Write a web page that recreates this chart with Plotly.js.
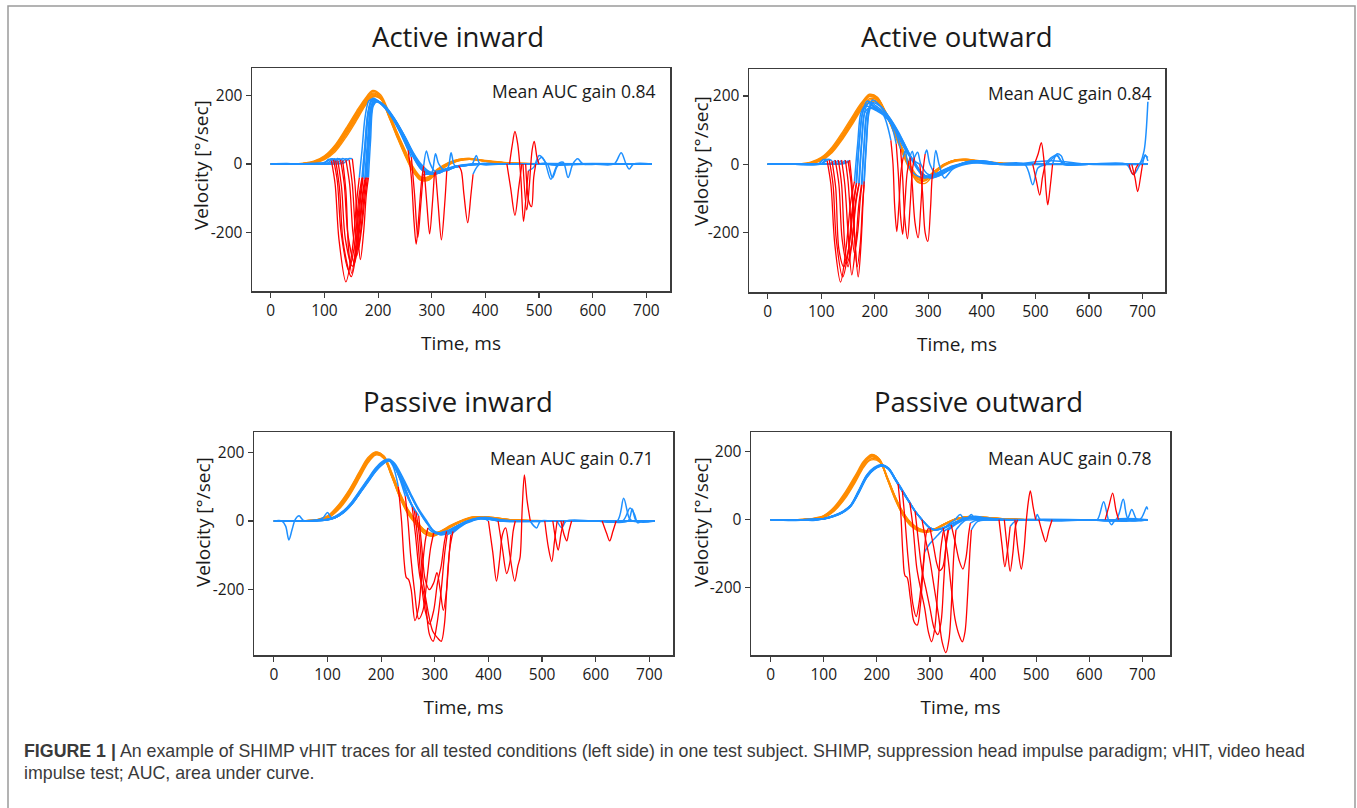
<!DOCTYPE html>
<html><head><meta charset="utf-8">
<script src="https://cdn.plot.ly/plotly-3.0.1.min.js"></script>
<style>html,body{margin:0;padding:0;background:#fff;}#chart{width:1357px;height:808px;}</style>
</head><body><div id="chart"></div>
<script>
// ---------- shared ticks ----------
const xTickVals = [0,100,200,300,400,500,600,700];
const xTickText = ['0','100','200','300','400','500','600','700'];
const yTickVals = [-200,0,200];
const yTickText = ['-200','0','200'];
const panelTitles = ['Active inward','Active outward','Passive inward','Passive outward'];
const gainLabels = ['Mean AUC gain 0.84','Mean AUC gain 0.84','Mean AUC gain 0.71','Mean AUC gain 0.78'];
const xTitle = 'Time, ms';
const yTitle = 'Velocity [°/sec]';
const captionLine1 = '<b>FIGURE 1 |</b> An example of SHIMP vHIT traces for all tested conditions (left side) in one test subject. SHIMP, suppression head impulse paradigm; vHIT, video head';
const captionLine2 = 'impulse test; AUC, area under curve.';

// ---------- Panel 1: Active inward ----------
const aiHeadT = [0,40,60,80,100,120,140,160,175,190,205,220,235,250,265,280,295,310,330,350,370,400,440,500,600,710];
const aiHeadV = [
[0,0,1,5,18,45,90,140,180,205,192,142,85,30,-18,-44,-38,-18,2,12,15,8,2,0,0,0],
[0,0,1,6,20,50,97,148,186,212,198,144,86,30,-20,-47,-42,-20,0,11,14,8,2,0,0,0],
[0,0,0,4,15,40,84,133,172,198,190,142,88,35,-13,-40,-36,-16,3,13,16,9,3,0,0,0],
[0,0,2,8,24,56,104,155,190,215,202,152,93,37,-14,-45,-44,-24,-2,10,15,9,3,0,0,0],
[0,0,1,5,17,44,88,138,176,200,190,138,80,25,-22,-48,-40,-18,2,13,16,8,2,0,0,0],
[0,0,1,7,22,53,100,150,184,208,194,140,82,28,-20,-48,-47,-26,-4,9,14,9,3,0,0,0],
[0,0,0,3,13,36,78,128,168,196,192,148,94,42,-8,-38,-40,-22,-2,10,14,10,4,1,0,0],
[0,0,1,5,19,48,93,143,180,204,195,144,87,32,-16,-45,-43,-21,0,12,15,8,2,0,0,0]
];
const aiEye = [
[[0,0],[30,1],[60,-1],[90,1],[100,3],[108,14],[113,10],null,[165,-40],[170,40],[176,140],[183,185],[192,190],[205,178],[220,152],[235,112],[250,68],[262,30],[275,-5],[288,-25],[300,-30],[320,-20],[345,-8],[370,-3],[400,0],[450,0],[475,0],null,[494,0],[505,20],[515,0],[600,0],[660,0],[710,0]],
[[0,0],[40,0],[70,1],[95,2],[105,8],[112,15],[117,12],null,[170,-40],[175,50],[181,150],[188,188],[200,182],[220,150],[240,100],[255,55],[268,15],[280,-15],[292,-28],[305,-28],[325,-15],[350,-5],[390,0],[450,0],[520,1],[600,0],[710,0]],
[[0,0],[50,0],[90,1],[106,3],[115,15],[121,10],null,[172,-40],[177,60],[183,160],[190,192],[205,178],[222,145],[240,95],[256,40],null,[285,-5],[290,38],[296,5],[305,-20],[320,-18],[345,-6],[380,0],[450,0],[520,0],[600,1],[710,0]],
[[0,0],[50,0],[90,-1],[110,3],[119,15],[125,10],null,[175,-45],[180,60],[186,165],[193,188],[208,175],[225,140],[242,90],[262,20],null,[284,-30],[292,-30],[300,-25],[307,30],[313,0],[325,-20],[345,-8],[380,0],[440,0],[520,0],[600,0],[710,0]],
[[0,0],[50,0],[90,1],[115,3],[124,16],[130,12],null,[177,-40],[182,70],[188,170],[195,186],[210,172],[228,135],[246,85],[262,35],[276,0],[286,-20],null,[305,-25],[318,-20],[330,-12],[336,33],[343,-5],[360,-5],[380,0],[430,0],[500,0],[600,0],[710,0]],
[[0,0],[50,0],[90,0],[118,3],[128,15],[134,10],null,[171,-40],[176,55],[182,155],[189,185],[205,176],[222,148],[240,102],[255,60],[268,20],[282,-15],[296,-30],[307,-22],null,[328,-20],[345,-8],[375,0],[383,25],[390,0],[430,0],[500,0],[600,0],[710,0]],
[[0,0],[50,0],[90,1],[124,3],[134,16],[140,12],null,[178,-40],[183,70],[189,170],[196,185],[212,172],[230,134],[248,85],[263,38],[277,0],[290,-22],[305,-30],[325,-18],[350,-5],null,[377,-30],[390,0],[420,0],[440,0],null,[468,0],[500,0],[560,0],[600,0],[710,0]],
[[0,0],[50,0],[90,0],[130,3],[140,15],[146,12],null,[180,-40],[184,70],[190,170],[197,183],[213,168],[232,128],[250,78],[265,32],[280,-5],[295,-25],[310,-28],[330,-15],[360,-5],[400,0],[445,0],null,[480,-20],[490,-10],[500,25],[510,10],[522,-45],[535,0],[545,5],[554,-40],[563,0],[572,15],[582,0],[620,0],[710,0]],
[[0,0],[50,0],[90,1],[136,3],[146,16],[152,15],null,[182,-40],[186,70],[191,170],[198,182],[214,166],[232,128],[250,80],[265,35],[280,0],[295,-22],[310,-28],[330,-15],[360,-5],[400,0],[470,0],null,[500,0],[515,0],[525,-40],[535,-5],[550,0],[600,0],[640,0],[653,33],[662,0],[668,-15],[676,0],[710,0]]
];
const aiSac = [
[[113,10],[120,-60],[127,-220],[140,-345],[152,-250],[160,-110],[165,-40]],
[[475,0],[481,-110],[486,-125],[490,-40],[494,0]],
[[117,12],[124,-50],[131,-200],[145,-310],[156,-240],[164,-100],[170,-40]],
[[121,10],[128,-70],[135,-230],[150,-330],[160,-250],[167,-110],[172,-40]],
[[256,40],[262,-40],[267,-170],[271,-235],[276,-150],[281,-50],[285,-5]],
[[125,10],[132,-70],[139,-220],[152,-300],[162,-220],[170,-100],[175,-45]],
[[262,20],[268,-90],[274,-215],[279,-130],[284,-30]],
[[130,12],[137,-60],[144,-210],[156,-290],[165,-200],[172,-90],[177,-40]],
[[286,-20],[291,-120],[296,-205],[301,-120],[305,-25]],
[[134,10],[140,-80],[145,-250],[151,-320],[159,-230],[166,-100],[171,-40]],
[[307,-22],[312,-120],[318,-222],[324,-120],[328,-20]],
[[140,12],[147,-60],[153,-200],[160,-270],[168,-190],[174,-90],[178,-40]],
[[350,-5],[355,-20],[360,-90],[367,-172],[373,-90],[377,-30]],
[[440,0],[447,-70],[455,-150],[462,-70],[468,0]],
[[146,12],[152,-60],[158,-200],[163,-250],[170,-180],[176,-90],[180,-40]],
[[445,0],[450,55],[455,95],[460,60],[466,-40],[471,-168],[476,-90],[480,-20]],
[[152,15],[157,-60],[162,-200],[167,-280],[173,-200],[178,-90],[182,-40]],
[[470,0],[477,-135],[482,-60],[487,40],[491,66],[496,20],[500,0]]
];

// ---------- Panel 2: Active outward ----------
const aoHeadT = [0,40,60,80,100,120,140,160,175,190,205,220,235,250,265,280,295,310,330,350,370,400,440,500,600,710];
const aoHeadV = [
[0,0,0,3,14,40,82,132,170,198,190,150,100,45,-8,-45,-45,-25,0,12,13,7,2,0,0,0],
[0,0,1,5,18,46,90,140,176,203,194,152,98,42,-12,-50,-48,-26,-2,10,14,8,2,0,0,0],
[0,0,0,2,11,34,74,122,160,188,184,148,102,50,-2,-38,-42,-24,0,12,14,8,3,0,0,0],
[0,0,1,4,16,43,86,136,173,200,193,155,104,48,-5,-42,-46,-27,-1,11,13,7,2,0,0,0],
[0,0,0,3,12,37,78,127,164,192,188,152,105,52,0,-35,-40,-22,1,13,15,9,3,0,0,0],
[0,0,1,6,20,50,95,145,180,205,196,150,95,38,-15,-52,-55,-30,-4,9,12,8,2,0,0,0],
[0,0,0,3,13,38,80,128,165,182,180,146,100,48,-4,-38,-40,-22,0,12,14,8,2,0,0,0]
];
const aoEye = [
[[0,0],[50,0],[95,2],[104,14],[111,10],null,[162,-50],[168,60],[174,150],[182,170],[195,165],[210,155],[225,130],[240,95],[255,55],[270,10],[285,-25],[300,-35],[320,-25],[345,-5],[380,5],[420,0],[480,0],[495,-60],[505,-10],[520,0],[540,25],[552,0],[600,0],[670,0],[683,-30],[695,0],[703,40],[710,183]],
[[0,0],[50,0],[100,2],[109,15],[115,12],null,[165,-60],[170,50],[177,150],[186,185],[198,170],[212,150],[228,125],[240,60],null,[264,10],[270,38],[276,0],[290,-35],[310,-30],[330,-15],[360,0],[390,8],[430,0],[500,0],[600,0],[710,0]],
[[0,0],[50,0],[100,1],[114,15],[120,10],null,[166,-55],[171,60],[178,155],[188,178],[200,165],[215,148],[230,70],null,[253,20],[257,40],[262,0],[275,-30],[295,-40],[320,-25],[350,-5],[390,5],[430,0],[500,0],[600,0],[710,0]],
[[0,0],[50,0],[100,0],[118,3],[126,12],null,[170,-60],[175,60],[181,150],[190,165],[205,155],[220,140],[235,110],[248,45],null,[274,20],[280,35],[286,0],[300,-30],[320,-30],[345,-10],[370,5],[400,10],[440,0],[495,0],null,[518,0],[530,20],[540,28],[550,5],[560,0],[600,0],[710,0]],
[[0,0],[50,0],[100,1],[124,3],[132,12],null,[171,-55],[176,70],[182,160],[190,182],[203,170],[218,150],[235,110],[252,55],[266,20],null,[294,30],[297,42],[303,0],[315,-30],[335,-20],[360,0],[390,10],[430,0],[500,0],[600,0],[710,0]],
[[0,0],[50,0],[100,1],[130,3],[138,12],null,[175,-60],[180,60],[185,150],[192,165],[205,160],[220,140],[240,100],[255,55],[270,15],[284,0],null,[310,-10],[314,40],[320,0],[330,-40],[345,-15],[370,0],[400,5],[440,0],[498,0],null,[532,0],[540,30],[548,25],[556,0],[600,0],[680,0],null,[700,0],[705,25],[710,20]],
[[0,0],[50,0],[100,0],[137,3],[145,12],null,[176,-60],[180,50],[186,150],[194,172],[208,160],[225,135],[245,85],[262,35],[275,5],[290,-30],[305,-40],[325,-30],[345,-10],[370,5],[400,10],[440,0],[500,0],[600,0],[675,0],null,[692,0],[700,10],[705,28],[710,10]],
[[0,0],[50,0],[100,1],[142,3],[150,10],null,[180,-60],[184,50],[189,150],[196,180],[210,170],[226,140],[244,95],[260,45],[275,0],[290,-30],[305,-40],[325,-30],[345,-10],[375,8],[410,5],[450,0],[530,10],[600,0],[710,0]],
[[0,0],[50,0],[100,0],[145,3],[153,12],null,[180,-50],[184,60],[189,160],[196,188],[212,168],[230,130],[250,75],[268,20],[285,-20],[300,-38],[320,-30],[345,-10],[375,8],[410,5],[450,0],[600,0],[710,0]]
];
const aoSac = [
[[111,10],[118,-60],[125,-230],[136,-345],[146,-250],[155,-110],[162,-50]],
[[115,12],[122,-60],[128,-220],[140,-330],[150,-260],[158,-130],[165,-60]],
[[240,60],[244,-30],[248,-150],[252,-205],[256,-120],[260,-30],[264,10]],
[[120,10],[127,-70],[133,-250],[142,-300],[152,-240],[160,-120],[166,-55]],
[[230,70],[234,0],[237,-120],[241,-197],[245,-120],[249,-20],[253,20]],
[[126,12],[133,-60],[139,-220],[148,-290],[157,-230],[164,-110],[170,-60]],
[[248,45],[252,-40],[256,-160],[261,-218],[266,-120],[270,-20],[274,20]],
[[495,0],[502,-50],[508,-90],[513,-40],[518,0]],
[[132,12],[138,-60],[144,-240],[150,-300],[158,-220],[165,-110],[171,-55]],
[[266,20],[270,-60],[275,-170],[281,-215],[286,-120],[290,-20],[294,30]],
[[138,12],[144,-60],[150,-200],[157,-324],[164,-240],[170,-120],[175,-60]],
[[284,0],[289,-80],[294,-200],[299,-226],[304,-130],[307,-40],[310,-10]],
[[498,0],[505,30],[511,63],[516,10],[520,-80],[523,-119],[528,-60],[532,0]],
[[680,0],[686,-40],[691,-80],[697,-30],[700,0]],
[[145,12],[150,-50],[156,-180],[162,-260],[168,-200],[173,-100],[176,-60]],
[[675,0],[680,-25],[684,-30],[688,-10],[692,0]],
[[150,10],[156,-60],[162,-200],[167,-300],[173,-230],[177,-120],[180,-60]],
[[153,12],[158,-70],[163,-230],[169,-330],[174,-240],[178,-110],[180,-50]]
];

// ---------- Panel 3: Passive inward ----------
const piHeadT = [0,40,60,80,100,120,140,160,175,190,205,220,235,250,265,280,295,310,330,350,370,400,440,500,600,710];
const piHeadV = [
[0,0,0,2,10,38,80,135,175,198,185,130,70,25,-5,-30,-40,-32,-15,0,10,10,3,0,0,0],
[0,0,1,3,13,44,88,142,180,200,188,134,74,28,-4,-30,-42,-34,-16,0,9,10,3,0,0,0],
[0,0,0,1,8,32,72,126,168,192,182,128,68,22,-8,-35,-45,-36,-18,-2,8,11,4,0,0,0],
[0,0,1,3,12,40,84,138,178,196,184,132,76,30,0,-26,-38,-30,-12,2,12,10,3,0,0,0],
[0,0,0,2,9,35,76,130,172,194,186,138,80,32,-2,-28,-40,-33,-14,0,11,12,4,1,0,0],
[0,0,1,4,15,46,90,145,184,201,186,130,68,20,-10,-36,-44,-35,-16,-1,9,10,3,0,0,0],
[0,0,0,2,11,38,82,136,176,198,190,140,82,34,2,-25,-36,-30,-14,1,10,11,4,0,0,0]
];
const piEye = [
[[0,0],[15,0],[22,-15],[28,-55],[34,-25],[40,5],[47,15],[55,2],[80,0],[100,4],[115,12],[130,28],[145,52],[160,85],[175,118],[190,150],[203,172],[213,178],[222,160],[232,100],null,[287,-20],[300,-35],[320,-30],[340,-15],[360,0],[380,8],[400,5],[430,0],[500,0],[600,0],[710,0]],
[[0,0],[50,0],[80,2],[92,10],[100,25],[108,8],[120,14],[135,32],[150,58],[165,92],[180,125],[195,155],[207,170],[217,176],[228,150],[245,72],null,[298,-35],[310,-38],[330,-25],[350,-8],[375,5],[400,5],[440,0],[500,0],[600,0],[710,0]],
[[0,0],[50,0],[100,4],[115,10],[130,25],[145,48],[160,80],[175,112],[190,145],[205,168],[215,176],[225,165],[240,115],[258,40],null,[323,-40],[335,-30],[350,-10],[370,3],[390,8],[400,0],null,[478,0],[485,-15],[490,-20],[497,0],[520,0],[600,0],[710,0]],
[[0,0],[50,0],[100,5],[115,13],[130,29],[145,54],[160,86],[175,120],[190,152],[205,172],[214,178],[224,160],[238,115],[252,60],[265,25],null,[330,-40],[345,-20],[365,0],[385,8],[405,5],[418,0],null,[450,0],[500,0],[505,0],null,[528,0],[537,-20],[545,0],[600,0],[710,0]],
[[0,0],[50,0],[100,3],[115,11],[130,26],[145,50],[160,83],[175,116],[190,148],[203,170],[213,177],[223,162],[236,120],[252,62],[270,15],null,[334,-30],[350,-12],[370,0],[390,8],[420,0],[520,0],null,[540,0],[600,0],[710,0]],
[[0,0],[50,0],[100,4],[115,12],[130,27],[145,51],[160,84],[175,117],[190,149],[204,171],[214,178],[224,163],[238,118],[252,66],[262,30],null,[322,-30],[340,-20],[360,-3],[385,10],[420,0],[535,0],null,[555,0],[600,0],[612,0],null,[638,0],[660,0],[710,0]],
[[0,0],[50,0],[100,4],[115,10],[130,26],[145,50],[160,82],[175,116],[190,148],[203,170],[215,180],[225,168],[240,128],[255,80],[270,35],[285,0],[298,-30],[310,-40],[325,-35],[345,-15],[365,0],[385,8],[410,5],[440,0],[500,0],[600,0],[640,0],[652,66],[662,10],[668,0],[710,0]],
[[0,0],[50,0],[100,5],[115,14],[130,30],[145,55],[160,88],[175,122],[190,155],[203,174],[212,180],[222,170],[236,135],[250,90],[265,45],[280,5],[295,-25],[308,-35],[325,-30],[345,-12],[365,0],[390,10],[420,3],[450,0],[550,0],[600,0],[650,0],[664,38],[672,20],[678,-5],[686,0],[710,0]],
[[0,0],[50,0],[100,3],[115,10],[130,24],[145,48],[160,80],[175,114],[190,146],[203,168],[215,176],[226,160],[240,120],[255,75],[270,30],[285,-5],[300,-32],[312,-40],[330,-30],[350,-10],[370,2],[395,10],[425,3],[460,0],[600,0],[660,0],[668,35],[676,0],[710,0]]
];
const piSac = [
[[232,100],[238,0],[243,-120],[247,-165],[251,-170],[256,-200],[263,-290],[270,-250],[276,-150],[282,-60],[287,-20]],
[[245,72],[250,0],[255,-100],[262,-200],[270,-285],[278,-260],[286,-160],[292,-80],[298,-35]],
[[258,40],[264,-40],[272,-160],[282,-230],[290,-330],[297,-350],[304,-300],[312,-200],[318,-100],[323,-40]],
[[400,0],[408,-90],[415,-175],[421,-110],[426,-40],[432,-20],[440,-100],[449,-175],[455,-130],[459,-105],[463,40],[467,134],[472,60],[478,0]],
[[265,25],[271,-40],[278,-170],[287,-260],[296,-320],[305,-340],[312,-350],[318,-300],[324,-150],[330,-40]],
[[418,0],[426,-80],[434,-153],[440,-120],[446,-30],[450,0]],
[[505,0],[512,-80],[518,-118],[523,-60],[528,0]],
[[270,15],[276,-80],[282,-170],[290,-200],[298,-180],[304,-150],[310,-200],[316,-260],[322,-200],[328,-80],[334,-30]],
[[520,0],[526,-60],[530,-85],[535,-40],[540,0]],
[[262,30],[268,-50],[275,-180],[282,-260],[290,-300],[298,-260],[305,-180],[312,-130],[318,-60],[322,-30]],
[[535,0],[541,-40],[546,-58],[550,-30],[555,0]],
[[612,0],[620,-35],[626,-58],[632,-30],[638,0]]
];

// ---------- Panel 4: Passive outward ----------
const poHeadT = [0,40,60,80,100,120,140,160,175,190,205,220,235,250,265,280,295,310,330,350,370,400,440,500,600,710];
const poHeadV = [
[0,0,0,2,8,30,68,120,162,188,176,120,62,15,-15,-30,-35,-28,-12,2,8,6,2,0,0,0],
[0,0,1,3,11,35,75,128,168,190,178,122,64,17,-14,-30,-34,-27,-10,3,9,7,2,0,0,0],
[0,0,0,1,6,26,62,112,154,180,172,120,64,18,-12,-28,-34,-28,-12,1,8,7,2,0,0,0],
[0,0,1,3,10,33,72,124,164,185,174,118,58,12,-18,-32,-36,-28,-11,2,9,6,2,0,0,0],
[0,0,0,2,7,28,66,116,158,176,170,122,66,20,-10,-26,-32,-26,-10,3,9,7,3,0,0,0],
[0,0,1,4,12,38,80,132,172,192,178,118,58,10,-20,-34,-37,-29,-12,2,8,6,2,0,0,0],
[0,0,0,2,9,31,70,122,164,186,176,124,66,20,-12,-28,-33,-26,-10,3,9,7,2,0,0,0]
];
const poEye = [
[[0,0],[50,0],[80,0],[100,3],[120,12],[135,22],[150,40],[165,80],[181,128],[195,150],[210,160],[222,150],[233,125],[240,105],null,[297,-25],[310,-30],[330,-20],[350,-5],[370,3],[378,15],[386,0],[400,0],[430,0],null,[451,-20],[460,-5],[480,0],[600,0],[710,0]],
[[0,0],[40,-2],[80,0],[100,2],[120,10],[135,20],[150,38],[165,76],[181,124],[195,148],[210,158],[223,150],[236,116],[248,85],null,[290,-95],[300,-70],[315,-45],[330,-20],[347,0],[357,15],[365,0],[380,0],[440,0],null,[465,0],[500,0],[600,0],[710,0]],
[[0,0],[50,0],[80,-2],[100,3],[120,13],[135,24],[150,42],[165,84],[181,132],[195,154],[210,162],[222,152],[235,120],[248,88],[262,50],null,[325,-35],[340,-20],[360,0],[385,10],[420,0],[460,0],null,[499,0],[502,15],[508,0],[600,0],[710,0]],
[[0,0],[50,0],[100,3],[120,11],[135,21],[150,39],[165,78],[181,126],[195,149],[210,159],[222,149],[235,117],[248,84],[260,54],[272,25],null,[334,-30],[350,-10],[370,5],[400,3],[440,0],[505,0],null,[530,0],[600,0],[710,0]],
[[0,0],[50,0],[100,3],[120,12],[135,23],[150,41],[165,82],[181,130],[195,152],[210,161],[222,151],[235,119],[248,86],[260,56],[272,26],[285,0],null,[349,-30],[360,-10],[375,5],[400,5],[450,0],[600,0],[630,0],null,[655,0],[680,0],[710,0]],
[[0,0],[50,0],[100,2],[120,11],[135,21],[150,38],[165,77],[181,125],[195,148],[210,158],[222,148],[235,116],[248,83],[260,53],[272,24],[285,0],[300,-25],null,[335,-30],[350,-12],[370,2],[400,5],[450,0],[600,0],[615,0],[627,53],[636,0],[642,-15],[650,0],[710,0]],
[[0,0],[50,0],[100,3],[120,12],[135,22],[150,40],[165,80],[181,128],[195,150],[210,160],[222,150],[235,118],[248,85],[260,55],[272,25],[285,0],[298,-22],[310,-30],[325,-25],null,[378,-30],[390,-5],[410,0],[500,0],[600,0],[650,0],[664,60],[674,0],[710,0]],
[[0,0],[50,0],[100,3],[120,12],[135,22],[150,40],[165,80],[181,128],[195,150],[210,160],[222,150],[235,118],[248,85],[260,55],[272,25],[285,0],[298,-22],[310,-30],[325,-25],[340,-15],null,[376,-10],[390,0],[420,0],[500,0],[600,0],[670,0],[680,30],[690,0],[710,0]],
[[0,0],[50,0],[80,0],[100,3],[120,12],[135,22],[150,40],[165,80],[181,128],[195,150],[210,160],[222,150],[235,118],[248,85],[260,55],[272,25],[285,0],[298,-22],[310,-30],[325,-25],[345,-10],[365,5],[385,5],[410,0],[500,0],[600,0],[695,0],[703,20],[708,38],[710,30]]
];
const poSac = [
[[240,105],[245,20],[249,-100],[253,-165],[257,-170],[263,-230],[270,-300],[276,-310],[282,-250],[288,-130],[293,-40],[297,-25]],
[[430,0],[436,-80],[441,-138],[446,-90],[451,-20]],
[[248,85],[253,0],[258,-100],[263,-180],[268,-250],[274,-285],[280,-240],[286,-150],[290,-95]],
[[440,0],[446,-90],[451,-152],[456,-100],[461,-20],[465,0]],
[[262,50],[268,-20],[275,-140],[282,-200],[290,-260],[297,-330],[303,-359],[309,-320],[315,-200],[320,-90],[325,-35]],
[[460,0],[466,-90],[472,-145],[477,-90],[481,-10],[485,50],[489,85],[494,40],[499,0]],
[[272,25],[278,-60],[285,-150],[292,-200],[300,-260],[308,-320],[315,-338],[321,-300],[326,-180],[331,-60],[334,-30]],
[[505,0],[512,-40],[518,-65],[524,-30],[530,0]],
[[285,0],[292,-60],[300,-120],[308,-200],[316,-280],[323,-360],[330,-391],[336,-350],[341,-230],[345,-100],[349,-30]],
[[630,0],[637,40],[644,78],[650,30],[655,0]],
[[300,-25],[307,-80],[313,-130],[318,-150],[324,-140],[330,-80],[335,-30]],
[[325,-25],[333,-100],[340,-200],[347,-290],[355,-340],[361,-359],[366,-330],[371,-220],[375,-100],[378,-30]],
[[340,-15],[348,-70],[355,-120],[362,-145],[368,-110],[373,-40],[376,-10]]
];

// ---------- build ----------
const ORANGE = '#FF8C00', BLUE = '#1E90FF', RED = '#FF0000';
function toXY(pts){ const x=[],y=[]; pts.forEach(p=>{ if(p===null){x.push(null);y.push(null);} else {x.push(p[0]);y.push(p[1]);} }); return {x,y}; }
const traces = [];
function addPanel(headT, headV, eyes, sacs, n){
  const xa = n===1?'x':'x'+n, ya = n===1?'y':'y'+n;
  headV.forEach(v=>traces.push({type:'scatter',mode:'lines',x:headT,y:v,xaxis:xa,yaxis:ya,
    line:{color:ORANGE,width:1.4,shape:'spline',smoothing:0.9},hoverinfo:'skip',showlegend:false}));
  eyes.forEach(e=>{const d=toXY(e); traces.push({type:'scatter',mode:'lines',x:d.x,y:d.y,xaxis:xa,yaxis:ya,connectgaps:false,
    line:{color:BLUE,width:1.5,shape:'spline',smoothing:0.9},hoverinfo:'skip',showlegend:false});});
  sacs.forEach(s=>{const d=toXY(s); traces.push({type:'scatter',mode:'lines',x:d.x,y:d.y,xaxis:xa,yaxis:ya,
    line:{color:RED,width:1.3,shape:'spline',smoothing:0.9},hoverinfo:'skip',showlegend:false});});
}
addPanel(aiHeadT, aiHeadV, aiEye, aiSac, 1);
addPanel(aoHeadT, aoHeadV, aoEye, aoSac, 2);
addPanel(piHeadT, piHeadV, piEye, piSac, 3);
addPanel(poHeadT, poHeadV, poEye, poSac, 4);

const W = 1357, H = 808;
const px = v => v / W, py = v => 1 - v / H;
const AX = '#3c3c3c', TXT = '#1a1a1a';
function xAxis(dom, rng, anchor){
  return {domain:[px(dom[0]),px(dom[1])], range:rng, anchor:anchor, showline:true, mirror:true, linecolor:AX, linewidth:1.5,
    ticks:'outside', ticklen:5, tickwidth:1.2, tickcolor:AX, showgrid:false, zeroline:false,
    tickmode:'array', tickvals:xTickVals, ticktext:xTickText, tickfont:{family:'Open Sans', size:15.5, color:TXT},
    title:{text:xTitle, font:{family:'Open Sans', size:19, color:TXT}, standoff:16}, fixedrange:true};
}
function yAxis(dom, rng, anchor){
  return {domain:[py(dom[1]),py(dom[0])], range:rng, anchor:anchor, showline:true, mirror:true, linecolor:AX, linewidth:1.5,
    ticks:'outside', ticklen:5, tickwidth:1.2, tickcolor:AX, showgrid:false, zeroline:false,
    tickmode:'array', tickvals:yTickVals, ticktext:yTickText, tickfont:{family:'Open Sans', size:15.5, color:TXT},
    fixedrange:true};
}
const titlePos = [[458,36],[957,36],[458,401],[978,401]];
const gainPos = [[658,91],[1154,93],[656,458],[1154,458]];
const yTitlePos = [[201,165],[701,161],[203,522],[701,522]];
const annotations = [];
panelTitles.forEach((t,i)=>annotations.push({text:t, x:px(titlePos[i][0]), y:py(titlePos[i][1]), xref:'paper', yref:'paper',
  xanchor:'center', yanchor:'middle', showarrow:false, font:{family:'Open Sans', size:27.5, color:TXT}}));
gainLabels.forEach((t,i)=>annotations.push({text:t, x:px(gainPos[i][0]), y:py(gainPos[i][1]), xref:'paper', yref:'paper',
  xanchor:'right', yanchor:'middle', showarrow:false, font:{family:'Open Sans', size:17.5, color:TXT}}));
yTitlePos.forEach(p=>annotations.push({text:yTitle, x:px(p[0]), y:py(p[1]), xref:'paper', yref:'paper', textangle:-90,
  xanchor:'center', yanchor:'middle', showarrow:false, font:{family:'Open Sans', size:19, color:TXT}}));
annotations.push({text:captionLine1, x:px(22), y:py(751), xref:'paper', yref:'paper', xanchor:'left', yanchor:'middle', showarrow:false,
  font:{family:'Liberation Sans, Arial, sans-serif', size:17.8, color:'#3a3a3a'}});
annotations.push({text:captionLine2, x:px(22), y:py(773), xref:'paper', yref:'paper', xanchor:'left', yanchor:'middle', showarrow:false,
  font:{family:'Liberation Sans, Arial, sans-serif', size:17.8, color:'#3a3a3a'}});

const layout = {
  width:W, height:H, margin:{l:0,r:0,t:0,b:0}, paper_bgcolor:'#fff', plot_bgcolor:'#fff', showlegend:false,
  xaxis: xAxis([252,670],[-35,744],'y'),   yaxis: yAxis([68,291],[-372,281],'x'),
  xaxis2:xAxis([749,1165],[-35,742],'y2'), yaxis2:yAxis([69,292],[-374,279],'x2'),
  xaxis3:xAxis([254,673],[-37,744],'y3'),  yaxis3:yAxis([432,655],[-390,259],'x3'),
  xaxis4:xAxis([751,1170],[-37,752],'y4'), yaxis4:yAxis([432,655],[-398,258],'x4'),
  annotations: annotations,
  shapes:[{type:'rect', xref:'paper', yref:'paper', x0:px(8), x1:px(1355), y0:-0.02, y1:py(6), line:{color:'#9a9a9a', width:1.5}}]
};
Plotly.newPlot('chart', traces, layout, {staticPlot:true, displayModeBar:false});
</script></body></html>
